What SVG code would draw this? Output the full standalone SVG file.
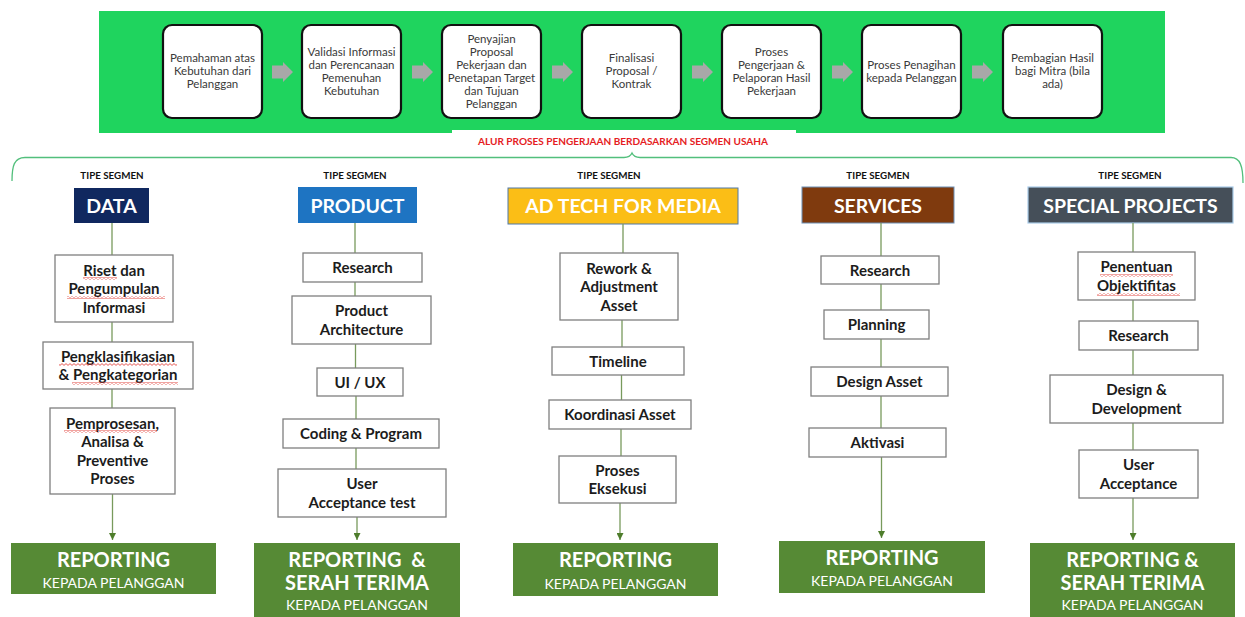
<svg xmlns="http://www.w3.org/2000/svg" width="1245" height="617" viewBox="0 0 1245 617">
  <style>
    .band { fill: #1fd45e; }
    .step { fill: #ffffff; stroke: #111111; stroke-width: 2.2; }
    .step-t { font-family: Lato, "Open Sans", "DejaVu Sans", sans-serif; font-size: 11.5px; fill: #3a3a3a; text-anchor: middle; }
    .garrow { fill: #a8a8a8; }
    .caption { font-family: Lato, "Liberation Sans", sans-serif; font-weight: 700; font-size: 9.6px; fill: #e51c23; text-anchor: middle; }
    .brace { fill: none; stroke: #52bf7c; stroke-width: 1.3; }
    .tipe { font-family: Lato, "Liberation Sans", sans-serif; font-weight: 700; font-size: 9.8px; fill: #111111; text-anchor: middle; }
    .seg-t { font-family: Lato, "Liberation Sans", sans-serif; font-weight: 700; font-size: 19.5px; fill: #ffffff; text-anchor: middle; }
    .task { fill: #ffffff; stroke: #7f7f7f; stroke-width: 1.3; }
    .task-t { font-family: Lato, "Liberation Sans", sans-serif; font-weight: 700; font-size: 15px; fill: #1c1c1c; text-anchor: middle; }
    .link { stroke: #789a5c; stroke-width: 1.3; fill: none; }
    .report { fill: #568a35; }
    .rep-b { font-family: Lato, "Liberation Sans", sans-serif; font-weight: 700; font-size: 20px; fill: #ffffff; text-anchor: middle; }
    .rep-s { font-family: Lato, "Liberation Sans", sans-serif; font-size: 14px; fill: #ffffff; text-anchor: middle; }
    .squiggle { fill: url(#wave); }
  </style>
  <defs>
    <marker id="ah" viewBox="0 0 8 8" refX="8" refY="4" markerWidth="7" markerHeight="7" markerUnits="userSpaceOnUse" orient="auto">
      <path d="M0,0 L8,4 L0,8 z" fill="#4e7d2b"/>
    </marker>
    <pattern id="wave" width="4" height="3" patternUnits="userSpaceOnUse">
      <path d="M0,2.4 L2,0.6 L4,2.4" fill="none" stroke="#e0302a" stroke-width="0.8"/>
    </pattern>
  </defs>

  <!-- top process band -->
  <rect class="band" x="99" y="11" width="1066" height="122"/>
  <rect x="452" y="130" width="344" height="22" fill="#ffffff"/>

  <g id="step-1">
    <rect class="step" x="163" y="25" width="99" height="93" rx="9"/>
    <text class="step-t" x="212.5"><tspan x="212.5" y="62">Pemahaman atas</tspan><tspan x="212.5" y="75">Kebutuhan dari</tspan><tspan x="212.5" y="88">Pelanggan</tspan></text>
  </g>
  <g id="step-2">
    <rect class="step" x="302" y="25" width="99" height="93" rx="9"/>
    <text class="step-t"><tspan x="351.5" y="55.5">Validasi Informasi</tspan><tspan x="351.5" y="68.5">dan Perencanaan</tspan><tspan x="351.5" y="81.5">Pemenuhan</tspan><tspan x="351.5" y="94.5">Kebutuhan</tspan></text>
  </g>
  <g id="step-3">
    <rect class="step" x="442" y="25" width="99" height="93" rx="9"/>
    <text class="step-t"><tspan x="491.5" y="42.5">Penyajian</tspan><tspan x="491.5" y="55.5">Proposal</tspan><tspan x="491.5" y="68.5">Pekerjaan dan</tspan><tspan x="491.5" y="81.5">Penetapan Target</tspan><tspan x="491.5" y="94.5">dan Tujuan</tspan><tspan x="491.5" y="107.5">Pelanggan</tspan></text>
  </g>
  <g id="step-4">
    <rect class="step" x="582" y="25" width="99" height="93" rx="9"/>
    <text class="step-t"><tspan x="631.5" y="62">Finalisasi</tspan><tspan x="631.5" y="75">Proposal /</tspan><tspan x="631.5" y="88">Kontrak</tspan></text>
  </g>
  <g id="step-5">
    <rect class="step" x="722" y="25" width="99" height="93" rx="9"/>
    <text class="step-t"><tspan x="771.5" y="55.5">Proses</tspan><tspan x="771.5" y="68.5">Pengerjaan &amp;</tspan><tspan x="771.5" y="81.5">Pelaporan Hasil</tspan><tspan x="771.5" y="94.5">Pekerjaan</tspan></text>
  </g>
  <g id="step-6">
    <rect class="step" x="862" y="25" width="99" height="93" rx="9"/>
    <text class="step-t"><tspan x="911.5" y="68.5">Proses Penagihan</tspan><tspan x="911.5" y="81.5">kepada Pelanggan</tspan></text>
  </g>
  <g id="step-7">
    <rect class="step" x="1003" y="25" width="99" height="93" rx="9"/>
    <text class="step-t"><tspan x="1052.5" y="62">Pembagian Hasil</tspan><tspan x="1052.5" y="75">bagi Mitra (bila</tspan><tspan x="1052.5" y="88">ada)</tspan></text>
  </g>

  <!-- block arrows between process steps -->
  <g id="step-arrows">
    <path class="garrow" d="M272,65.5 H283 V62 L293,72 L283,82 V78.5 H272 Z"/>
    <path class="garrow" d="M412,65.5 H423 V62 L433,72 L423,82 V78.5 H412 Z"/>
    <path class="garrow" d="M552,65.5 H563 V62 L573,72 L563,82 V78.5 H552 Z"/>
    <path class="garrow" d="M692,65.5 H703 V62 L713,72 L703,82 V78.5 H692 Z"/>
    <path class="garrow" d="M832,65.5 H843 V62 L853,72 L843,82 V78.5 H832 Z"/>
    <path class="garrow" d="M972,65.5 H983 V62 L993,72 L983,82 V78.5 H972 Z"/>
  </g>

  <text class="caption" x="623" y="145" textLength="290" lengthAdjust="spacingAndGlyphs">ALUR PROSES PENGERJAAN BERDASARKAN SEGMEN USAHA</text>

  <!-- curly brace spanning all segments -->
  <path class="brace" d="M12,181 C12,166 14,157.5 25,157.5 H624 Q630,157.5 632,153 Q634,157.5 640,157.5 H1231 C1240,157.5 1243,166 1243,183"/>

  <!-- segment headers -->
  <g id="seg-data">
    <text class="tipe" x="112" y="179">TIPE SEGMEN</text>
    <rect x="74" y="188" width="75" height="35" fill="#10285f"/>
    <text class="seg-t" x="111.5" y="212.5">DATA</text>
  </g>
  <g id="seg-product">
    <text class="tipe" x="355" y="179">TIPE SEGMEN</text>
    <rect x="298" y="187" width="119" height="36" fill="#1e74c2"/>
    <text class="seg-t" x="357.5" y="212.5">PRODUCT</text>
  </g>
  <g id="seg-adtech">
    <text class="tipe" x="609" y="179">TIPE SEGMEN</text>
    <rect x="508" y="188" width="230" height="36" fill="#fbbe16" stroke="#4f79a8" stroke-width="1"/>
    <text class="seg-t" x="623" y="213">AD TECH FOR MEDIA</text>
  </g>
  <g id="seg-services">
    <text class="tipe" x="878" y="179">TIPE SEGMEN</text>
    <rect x="802" y="187" width="152" height="36" fill="#7f3a0e" stroke="#6d8fb5" stroke-width="1"/>
    <text class="seg-t" x="878" y="212.5">SERVICES</text>
  </g>
  <g id="seg-special">
    <text class="tipe" x="1130" y="179">TIPE SEGMEN</text>
    <rect x="1028" y="187" width="205" height="36" fill="#454f59" stroke="#a9cbe8" stroke-width="1.2"/>
    <text class="seg-t" x="1130.5" y="212.5">SPECIAL PROJECTS</text>
  </g>

  <!-- vertical flow connectors -->
  <g id="connectors">
    <line class="link" x1="112" y1="223" x2="112" y2="255"/>
    <line class="link" x1="112" y1="322" x2="112" y2="342"/>
    <line class="link" x1="112" y1="389" x2="112" y2="408"/>
    <line class="link" x1="112.5" y1="494" x2="112.5" y2="540" marker-end="url(#ah)"/>

    <line class="link" x1="355" y1="223" x2="355" y2="253"/>
    <line class="link" x1="355" y1="282" x2="355" y2="296"/>
    <line class="link" x1="355.5" y1="344" x2="355.5" y2="368"/>
    <line class="link" x1="356" y1="396" x2="356" y2="419"/>
    <line class="link" x1="356" y1="448" x2="356" y2="469"/>
    <line class="link" x1="357" y1="517" x2="357" y2="540" marker-end="url(#ah)"/>

    <line class="link" x1="623" y1="224" x2="623" y2="253"/>
    <line class="link" x1="622" y1="320" x2="622" y2="347"/>
    <line class="link" x1="621.5" y1="375" x2="621.5" y2="400"/>
    <line class="link" x1="621" y1="429" x2="621" y2="456"/>
    <line class="link" x1="620" y1="503" x2="620" y2="540" marker-end="url(#ah)"/>

    <line class="link" x1="881" y1="223" x2="881" y2="256"/>
    <line class="link" x1="881" y1="284" x2="881" y2="310"/>
    <line class="link" x1="881" y1="339" x2="881" y2="367"/>
    <line class="link" x1="881" y1="396" x2="881" y2="428"/>
    <line class="link" x1="881.5" y1="457" x2="881.5" y2="538" marker-end="url(#ah)"/>

    <line class="link" x1="1133" y1="223" x2="1133" y2="252"/>
    <line class="link" x1="1133" y1="300" x2="1133" y2="321"/>
    <line class="link" x1="1133" y1="350" x2="1133" y2="375"/>
    <line class="link" x1="1133" y1="423" x2="1133" y2="450"/>
    <line class="link" x1="1133" y1="498" x2="1133" y2="540" marker-end="url(#ah)"/>
  </g>

  <!-- DATA tasks -->
  <g id="data-riset">
    <rect class="task" x="55" y="255" width="118" height="67"/>
    <text class="task-t"><tspan x="114" y="275.5">Riset dan</tspan><tspan x="114" y="294">Pengumpulan</tspan><tspan x="114" y="312.5">Informasi</tspan></text>
    <rect class="squiggle" x="83" y="277" width="34" height="3"/>
    <rect class="squiggle" x="67" y="296" width="98" height="3"/>
  </g>
  <g id="data-klasifikasi">
    <rect class="task" x="43" y="342" width="150" height="47"/>
    <text class="task-t"><tspan x="118" y="361.5">Pengklasifikasian</tspan><tspan x="118" y="380">&amp; Pengkategorian</tspan></text>
    <rect class="squiggle" x="59" y="363" width="118" height="3"/>
    <rect class="squiggle" x="72" y="382" width="106" height="3"/>
  </g>
  <g id="data-proses">
    <rect class="task" x="50" y="408" width="125" height="86"/>
    <text class="task-t"><tspan x="112.5" y="428.5">Pemprosesan,</tspan><tspan x="112.5" y="447">Analisa &amp;</tspan><tspan x="112.5" y="465.5">Preventive</tspan><tspan x="112.5" y="484">Proses</tspan></text>
    <rect class="squiggle" x="64" y="430" width="93" height="3"/>
  </g>

  <!-- PRODUCT tasks -->
  <g id="product-research">
    <rect class="task" x="303" y="253" width="119" height="29"/>
    <text class="task-t" x="362.5" y="273">Research</text>
  </g>
  <g id="product-architecture">
    <rect class="task" x="292" y="296" width="139" height="48"/>
    <text class="task-t"><tspan x="361.5" y="316">Product</tspan><tspan x="361.5" y="334.5">Architecture</tspan></text>
  </g>
  <g id="product-uiux">
    <rect class="task" x="317" y="368" width="86" height="28"/>
    <text class="task-t" x="360" y="387.5">UI / UX</text>
  </g>
  <g id="product-coding">
    <rect class="task" x="283" y="419" width="156" height="29"/>
    <text class="task-t" x="361" y="439">Coding &amp; Program</text>
  </g>
  <g id="product-uat">
    <rect class="task" x="278" y="469" width="168" height="48"/>
    <text class="task-t"><tspan x="362" y="489">User</tspan><tspan x="362" y="507.5">Acceptance test</tspan></text>
  </g>

  <!-- AD TECH tasks -->
  <g id="adtech-rework">
    <rect class="task" x="560" y="253" width="118" height="67"/>
    <text class="task-t"><tspan x="619" y="273.5">Rework &amp;</tspan><tspan x="619" y="292">Adjustment</tspan><tspan x="619" y="310.5">Asset</tspan></text>
  </g>
  <g id="adtech-timeline">
    <rect class="task" x="552" y="347" width="132" height="28"/>
    <text class="task-t" x="618" y="366.5">Timeline</text>
  </g>
  <g id="adtech-koordinasi">
    <rect class="task" x="549" y="400" width="142" height="29"/>
    <text class="task-t" x="620" y="420">Koordinasi Asset</text>
  </g>
  <g id="adtech-eksekusi">
    <rect class="task" x="559" y="456" width="117" height="47"/>
    <text class="task-t"><tspan x="617.5" y="475.5">Proses</tspan><tspan x="617.5" y="494">Eksekusi</tspan></text>
  </g>

  <!-- SERVICES tasks -->
  <g id="services-research">
    <rect class="task" x="821" y="256" width="118" height="28"/>
    <text class="task-t" x="880" y="275.5">Research</text>
  </g>
  <g id="services-planning">
    <rect class="task" x="824" y="310" width="105" height="29"/>
    <text class="task-t" x="876.5" y="330">Planning</text>
  </g>
  <g id="services-design">
    <rect class="task" x="811" y="367" width="137" height="29"/>
    <text class="task-t" x="879.5" y="387">Design Asset</text>
  </g>
  <g id="services-aktivasi">
    <rect class="task" x="809" y="428" width="137" height="29"/>
    <text class="task-t" x="877.5" y="448">Aktivasi</text>
  </g>

  <!-- SPECIAL PROJECTS tasks -->
  <g id="special-objektif">
    <rect class="task" x="1078" y="252" width="117" height="48"/>
    <text class="task-t"><tspan x="1136.5" y="272">Penentuan</tspan><tspan x="1136.5" y="290.5">Objektifitas</tspan></text>
    <rect class="squiggle" x="1100" y="274" width="73" height="3"/>
    <rect class="squiggle" x="1097" y="293" width="83" height="3"/>
  </g>
  <g id="special-research">
    <rect class="task" x="1079" y="321" width="119" height="29"/>
    <text class="task-t" x="1138.5" y="341">Research</text>
  </g>
  <g id="special-design">
    <rect class="task" x="1050" y="375" width="173" height="48"/>
    <text class="task-t"><tspan x="1136.5" y="395">Design &amp;</tspan><tspan x="1136.5" y="413.5">Development</tspan></text>
  </g>
  <g id="special-uat">
    <rect class="task" x="1079" y="450" width="119" height="48"/>
    <text class="task-t"><tspan x="1138.5" y="470">User</tspan><tspan x="1138.5" y="488.5">Acceptance</tspan></text>
  </g>

  <!-- reporting outcomes -->
  <g id="report-data">
    <rect class="report" x="11" y="543" width="205" height="51"/>
    <text class="rep-b" x="113.5" y="567">REPORTING</text>
    <text class="rep-s" x="113.5" y="588">KEPADA PELANGGAN</text>
  </g>
  <g id="report-product">
    <rect class="report" x="254" y="543" width="206" height="74"/>
    <text class="rep-b" x="357" y="567" xml:space="preserve">REPORTING  &amp;</text>
    <text class="rep-b" x="357" y="590">SERAH TERIMA</text>
    <text class="rep-s" x="357" y="610">KEPADA PELANGGAN</text>
  </g>
  <g id="report-adtech">
    <rect class="report" x="513" y="543" width="205" height="53"/>
    <text class="rep-b" x="615.5" y="567">REPORTING</text>
    <text class="rep-s" x="615.5" y="589">KEPADA PELANGGAN</text>
  </g>
  <g id="report-services">
    <rect class="report" x="779" y="541" width="206" height="52"/>
    <text class="rep-b" x="882" y="565">REPORTING</text>
    <text class="rep-s" x="882" y="586">KEPADA PELANGGAN</text>
  </g>
  <g id="report-special">
    <rect class="report" x="1030" y="543" width="205" height="74"/>
    <text class="rep-b" x="1132.5" y="567">REPORTING &amp;</text>
    <text class="rep-b" x="1132.5" y="590">SERAH TERIMA</text>
    <text class="rep-s" x="1132.5" y="610">KEPADA PELANGGAN</text>
  </g>
</svg>
